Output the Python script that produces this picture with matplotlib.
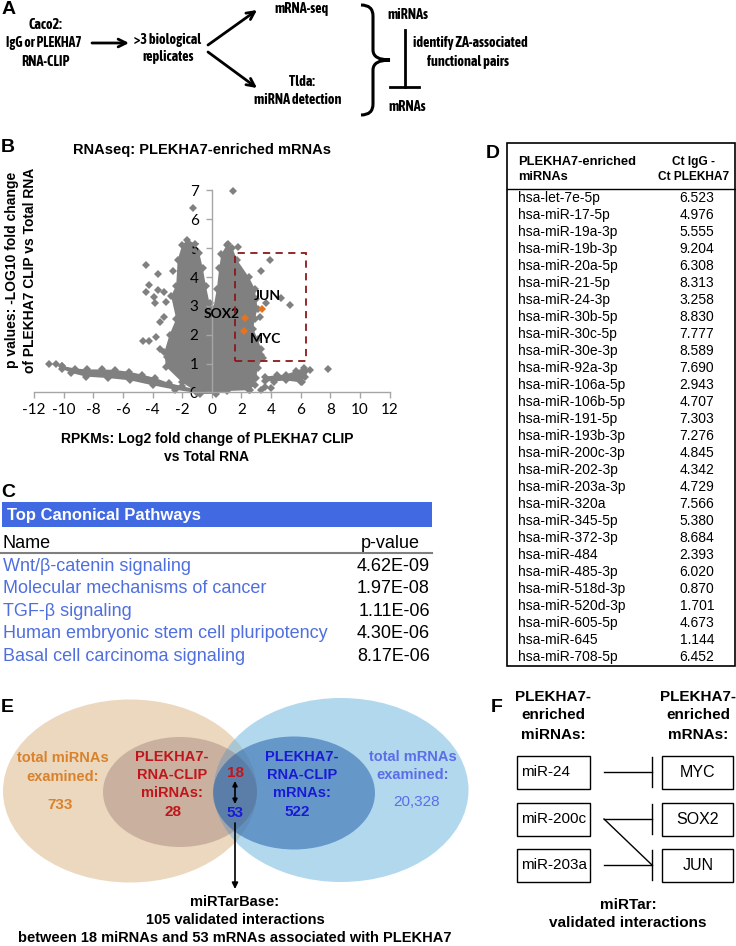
import matplotlib
matplotlib.use("Agg")
import matplotlib.pyplot as plt
from matplotlib.patches import Rectangle, Ellipse, PathPatch
from matplotlib.path import Path
from matplotlib import font_manager

# ---- data ----
# panel B: volcano plot (dense cloud outlines + single points)
cloud_x = [-0.8, -2.0, -3.1, -3.2, -2.85, -2.4, -2.75, -2.4, -2.3, -2.0, -1.65, -1.1,
           -0.85, -0.6, -0.4, -0.15, 0.1, 0.35, 0.5, 0.65, 1.0, 1.4, 1.7, 2.5, 2.9,
           3.0, 3.1, 2.9, 2.8, 3.1, 3.35, 3.45, 3.1, 3.0, 2.9, 2.5, 1.0, 0.3]
cloud_y = [-0.05, 0.35, 0.9, 1.4, 2.0, 2.55, 3.35, 3.7, 4.6, 5.1, 5.3, 5.15,
           4.85, 4.3, 3.7, 3.1, 2.9, 3.6, 4.3, 4.8, 5.1, 5.0, 4.6, 4.0, 3.6,
           3.25, 2.9, 2.55, 2.2, 1.85, 1.5, 1.2, 0.85, 0.5, 0.25, 0.08, 0.05, -0.05]
ltail_x = [-10.1, -9.2, -8.4, -7.4, -6.5, -5.6, -4.7, -3.8, -2.9, -2.0, -1.0,
           -1.0, -2.5, -4.0, -5.5, -7.0, -8.5, -9.5, -10.1]
ltail_y = [0.92, 0.83, 0.8, 0.8, 0.78, 0.72, 0.62, 0.5, 0.33, 0.22, 0.1,
           -0.02, 0.1, 0.25, 0.42, 0.5, 0.55, 0.68, 0.82]
rtail_x = [3.6, 4.4, 5.0, 5.7, 6.2, 6.6, 6.3, 6.0, 5.0, 4.2, 3.6]
rtail_y = [0.55, 0.6, 0.62, 0.75, 0.85, 0.78, 0.55, 0.35, 0.42, 0.38, 0.4]
single_x = [-11.0, -10.5, -10.1, -1.29, -4.45, -3.61, -4.22, -4.45, -3.93, -3.66, -3.2,
            -3.81, -3.09, -2.6, -3.2, -3.47, -3.77, -4.22, -4.67, -3.5, -3.02, 1.45,
            1.07, 1.75, 3.9, 3.34, 4.7, 5.26, 3.68, 3.23, 3.34, 7.86, 3.57, 3.3, 4.0,
            6.1, 2.6]
single_y = [0.98, 1.0, 0.92, 6.4, 4.41, 4.12, 3.72, 3.49, 3.32, 3.55, 3.49,
            3.09, 3.14, 4.2, 2.62, 2.45, 1.93, 1.78, 1.78, 1.5, 1.24, 6.97,
            5.15, 5.03, 4.59, 4.2, 3.26, 3.03, 3.09, 2.62, 1.3, 0.8, 0.2, 0.08, 0.15,
            0.35, 0.1]
gene_names = ["JUN", "SOX2", "MYC"]
gene_x = [3.41, 2.24, 2.17]
gene_y = [2.91, 2.59, 2.14]
box_x = (1.6, 6.35)
box_y = (1.1, 4.85)

# panel C
pathways = ["Wnt/\u03b2-catenin signaling", "Molecular mechanisms of cancer",
            "TGF-\u03b2 signaling", "Human embryonic stem cell pluripotency",
            "Basal cell carcinoma signaling"]
pvalues = ["4.62E-09", "1.97E-08", "1.11E-06", "4.30E-06", "8.17E-06"]

# panel D
mirnas = ["hsa-let-7e-5p", "hsa-miR-17-5p", "hsa-miR-19a-3p", "hsa-miR-19b-3p",
          "hsa-miR-20a-5p", "hsa-miR-21-5p", "hsa-miR-24-3p", "hsa-miR-30b-5p",
          "hsa-miR-30c-5p", "hsa-miR-30e-3p", "hsa-miR-92a-3p", "hsa-miR-106a-5p",
          "hsa-miR-106b-5p", "hsa-miR-191-5p", "hsa-miR-193b-3p", "hsa-miR-200c-3p",
          "hsa-miR-202-3p", "hsa-miR-203a-3p", "hsa-miR-320a", "hsa-miR-345-5p",
          "hsa-miR-372-3p", "hsa-miR-484", "hsa-miR-485-3p", "hsa-miR-518d-3p",
          "hsa-miR-520d-3p", "hsa-miR-605-5p", "hsa-miR-645", "hsa-miR-708-5p"]
delta_ct = ["6.523", "4.976", "5.555", "9.204", "6.308", "8.313", "3.258", "8.830",
            "7.777", "8.589", "7.690", "2.943", "4.707", "7.303", "7.276", "4.845",
            "4.342", "4.729", "7.566", "5.380", "8.684", "2.393", "6.020", "0.870",
            "1.701", "4.673", "1.144", "6.452"]

# panel E
n_total_mirna = "733"
n_clip_mirna = "28"
n_clip_mrna = "522"
n_total_mrna = "20,328"
n_pair_mirna = "18"
n_pair_mrna = "53"

# panel F
f_mirnas = ["miR-24", "miR-200c", "miR-203a"]
f_mrnas = ["MYC", "SOX2", "JUN"]
f_links = [(0, 0), (1, 1), (1, 2), (2, 2)]

# ---- fonts ----
fonts = font_manager.fontManager.ttflist
names = {f.name for f in fonts}
SANS = "Liberation Sans"
TICKF = "Lato" if "Lato" in names else SANS
plt.rcParams["font.family"] = SANS
plt.rcParams["axes.unicode_minus"] = False


def wnum(w):
    if isinstance(w, (int, float)):
        return w
    return font_manager.weight_dict.get(str(w), 400)


# narrow font for panel A: prefer a bold condensed face, else smaller Liberation Sans
na = dict(size=8.8, weight="bold")
narrow = [f for f in fonts if f.style == "normal" and
          ("Narrow" in f.name or "Condensed" in f.name)]
bold_narrow = [f for f in narrow if 550 <= wnum(f.weight) <= 750]
if bold_narrow:
    f = sorted(bold_narrow, key=lambda f: abs(wnum(f.weight) - 700))[0]
    na = dict(size=10.2, weight=wnum(f.weight), family=f.name)
elif narrow:
    na = dict(size=10.3, weight="bold", family=narrow[0].name)

fig = plt.figure(figsize=(7.36, 9.46), dpi=100)
ov = fig.add_axes([0, 0, 1, 1])
ov.set_xlim(0, 736)
ov.set_ylim(946, 0)
ov.axis("off")
ov.patch.set_alpha(0)


def t(x, y, s, size=10.5, weight="bold", ha="center", va="center", **kw):
    ov.text(x, y, s, fontsize=size, fontweight=weight, ha=ha, va=va, **kw)


def arrow(x0, y0, x1, y1, style="->", lw=2.0, ms=14):
    ov.annotate("", xy=(x1, y1), xytext=(x0, y0),
                arrowprops=dict(arrowstyle=style, color="black", lw=lw,
                                mutation_scale=ms, shrinkA=0, shrinkB=0))


# panel letters
for lab, (lx, ly) in {"A": (2, 9), "B": (1, 148), "C": (1, 492), "D": (486, 153),
                      "E": (1, 707), "F": (491, 707)}.items():
    t(lx, ly, lab, size=14, ha="left")

# ---- panel A ----
t(45, 25, "Caco2:", **na)
t(44, 43, "IgG or PLEKHA7", **dict(na, size=na["size"] * 0.96))
t(45, 62, "RNA-CLIP", **na)
arrow(92, 43, 129, 43)
t(168, 40, ">3 biological", **na)
t(168, 57, "replicates", **na)
arrow(208, 45, 257, 10)
arrow(208, 52, 257, 88)
t(302, 9, "mRNA-seq", **na)
t(302, 82, "Tlda:", **na)
t(298, 100, "miRNA detection", **na)
brace = Path([(361, 5), (373, 5), (373, 16), (373, 50), (373, 60), (390, 60),
              (373, 60), (373, 70), (373, 104), (373, 115), (361, 115)],
             [Path.MOVETO, Path.CURVE3, Path.CURVE3, Path.LINETO, Path.CURVE3, Path.CURVE3,
              Path.CURVE3, Path.CURVE3, Path.LINETO, Path.CURVE3, Path.CURVE3])
ov.add_patch(PathPatch(brace, fill=False, lw=2.2, color="black", capstyle="butt"))
t(408, 15, "miRNAs", **na)
ov.plot([405, 405], [30, 87], color="black", lw=2)
ov.plot([390, 419], [87, 87], color="black", lw=2)
t(407, 107, "mRNAs", **na)
t(413, 43, "identify ZA-associated", ha="left", **na)
t(468, 62, "functional pairs", **na)

# ---- panel B ----
t(202, 150, "RNAseq: PLEKHA7-enriched mRNAs", size=10.5)
t(21, 270, "p values: -LOG10 fold change\nof PLEKHA7 CLIP vs Total RNA", size=10,
  rotation=90, linespacing=1.3)
t(207, 448, "RPKMs: Log2 fold change of PLEKHA7 CLIP\nvs Total RNA", size=10,
  linespacing=1.3)

ax = fig.add_axes([34 / 736, 1 - 392.5 / 946, 355.5 / 736, 202 / 946])
ax.patch.set_alpha(0)
gray = "#808080"
ax.fill(cloud_x, cloud_y, color=gray, lw=0, clip_on=False)
ax.fill(ltail_x, ltail_y, color=gray, lw=0, clip_on=False)
ax.fill(rtail_x, rtail_y, color=gray, lw=0, clip_on=False)
for xs, ys in [(cloud_x, cloud_y), (ltail_x, ltail_y), (rtail_x, rtail_y),
               (single_x, single_y)]:
    ax.plot(xs, ys, "D", color=gray, ms=4, mew=0, clip_on=False)
ax.plot(gene_x, gene_y, "D", color="#E8731E", ms=4.5, mew=0, clip_on=False, zorder=5)
ax.text(gene_x[0] + 0.35, gene_y[0] + 0.45, gene_names[0], fontsize=10, fontweight="bold",
        ha="center", va="center", family=TICKF)
ax.text(gene_x[1] - 0.35, gene_y[1] + 0.12, gene_names[1], fontsize=10, fontweight="bold",
        ha="right", va="center", family=TICKF)
ax.text(gene_x[2] + 1.45, gene_y[2] - 0.3, gene_names[2], fontsize=10, fontweight="bold",
        ha="center", va="center", family=TICKF)
ax.add_patch(Rectangle((box_x[0], box_y[0]), box_x[1] - box_x[0], box_y[1] - box_y[0],
                       fill=False, ec="#8B1A1A", lw=1.3, ls=(0, (4, 3)), zorder=6))
ax.set_xlim(-12, 12)
ax.set_ylim(0, 7)
ax.set_xticks(range(-12, 13, 2))
ax.set_yticks(range(0, 8))
for sp in ["top", "right"]:
    ax.spines[sp].set_visible(False)
ax.spines["left"].set_position(("data", 0))
for sp in ["left", "bottom"]:
    ax.spines[sp].set_color("#A6A6A6")
    ax.spines[sp].set_linewidth(1.0)
ax.tick_params(axis="both", direction="out", length=4.5, color="#A6A6A6", width=1.0,
               labelsize=11, labelcolor="black")
ax.tick_params(axis="y", pad=5)
ax.tick_params(axis="x", pad=3)
for lb in ax.get_xticklabels() + ax.get_yticklabels():
    lb.set_family(TICKF)

# ---- panel C ----
ov.add_patch(Rectangle((2, 502), 430, 25, color="#4169E1", lw=0))
t(7, 515, "Top Canonical Pathways", size=12, color="white", ha="left")
t(3, 543, "Name", size=13, weight="normal", ha="left")
t(420, 543, "p-value", size=13, weight="normal", ha="right")
ov.plot([0, 432], [553, 553], color="#7F7F7F", lw=1.5)
for i, (pw, pv) in enumerate(zip(pathways, pvalues)):
    y = 566 + i * 22.5
    t(3, y, pw, size=13, weight="normal", ha="left", color="#4F6FDF")
    t(430, y, pv, size=13, weight="normal", ha="right")

# ---- panel D ----
ov.add_patch(Rectangle((506.5, 143), 228, 522.5, fill=False, ec="black", lw=1.2))
t(518, 162, "PLEKHA7-enriched", size=9.3, ha="left")
t(518, 177, "miRNAs", size=9.3, ha="left")
t(694, 162, "Ct IgG -", size=8.6)
t(694, 177, "Ct PLEKHA7", size=8.6)
ov.plot([506.5, 734.5], [189.5, 189.5], color="black", lw=1)
for i, (m, v) in enumerate(zip(mirnas, delta_ct)):
    y = 198 + i * 17.0
    t(518, y, m, size=10, weight="normal", ha="left")
    t(697, y, v, size=10, weight="normal")

# ---- panel E ----
ov.add_patch(Ellipse((130, 791), 254, 183, fc=(0.86, 0.72, 0.55), alpha=0.55, lw=0))
ov.add_patch(Ellipse((341, 790), 255, 184, fc=(0.45, 0.72, 0.88), alpha=0.55, lw=0))
ov.add_patch(Ellipse((180, 792), 154, 110, fc=(0.55, 0.40, 0.40), alpha=0.35, lw=0))
ov.add_patch(Ellipse((294, 793), 162, 113, fc=(0.10, 0.35, 0.65), alpha=0.5, lw=0))
orange, dred, blue, lblue = "#D9822B", "#C0161B", "#1A1AD6", "#5A6EE8"
t(63, 758, "total miRNAs", color=orange)
t(63, 777, "examined:", color=orange)
t(60, 805, n_total_mirna, color=orange, size=11)
for s, y in zip(["PLEKHA7-", "RNA-CLIP", "miRNAs:"], [757, 775, 793]):
    t(172, y, s, color=dred)
t(173, 812, n_clip_mirna, color=dred, size=11)
t(235, 773, n_pair_mirna, color=dred, size=11)
t(235, 813, n_pair_mrna, color=blue, size=11)
arrow(235, 804, 235, 781, style="<|-|>", lw=1.2, ms=7)
arrow(235, 823, 235, 889, style="-|>", lw=1.2, ms=9)
for s, y in zip(["PLEKHA7-", "RNA-CLIP", "mRNAs:"], [757, 775, 793]):
    t(302, y, s, color=blue)
t(297, 812, n_clip_mrna, color=blue, size=11)
t(413, 757, "total mRNAs", color=lblue)
t(413, 775, "examined:", color=lblue)
t(417, 802, n_total_mrna, color=lblue, size=11, weight="normal")
t(235, 902, "miRTarBase:")
t(235, 920, "105 validated interactions")
t(235, 938, "between 18 miRNAs and 53 mRNAs associated with PLEKHA7")

# ---- panel F ----
for s, y in zip(["PLEKHA7-", "enriched", "miRNAs:"], [697, 715, 735]):
    t(553, y, s, size=11)
for s, y in zip(["PLEKHA7-", "enriched", "mRNAs:"], [697, 715, 735]):
    t(698, y, s, size=11)
rows = [772, 819, 865]
for i, (mi, mr) in enumerate(zip(f_mirnas, f_mrnas)):
    y = rows[i]
    ov.add_patch(Rectangle((517, y - 16.5), 73, 33, fill=False, ec="black", lw=1))
    ov.add_patch(Rectangle((662, y - 16.5), 71, 33, fill=False, ec="black", lw=1))
    t(521, y, mi, size=11, weight="normal", ha="left")
    t(698, y, mr, size=11.5, weight="normal")
for a, b in f_links:
    ov.plot([604, 652], [rows[a], rows[b]], color="black", lw=1)
for b in sorted({b for _, b in f_links}):
    ov.plot([652, 652], [rows[b] - 15, rows[b] + 15], color="black", lw=1)
t(628, 905, "miRTar:", size=11)
t(628, 923, "validated interactions", size=11)

fig.savefig("out.png", dpi=100)
